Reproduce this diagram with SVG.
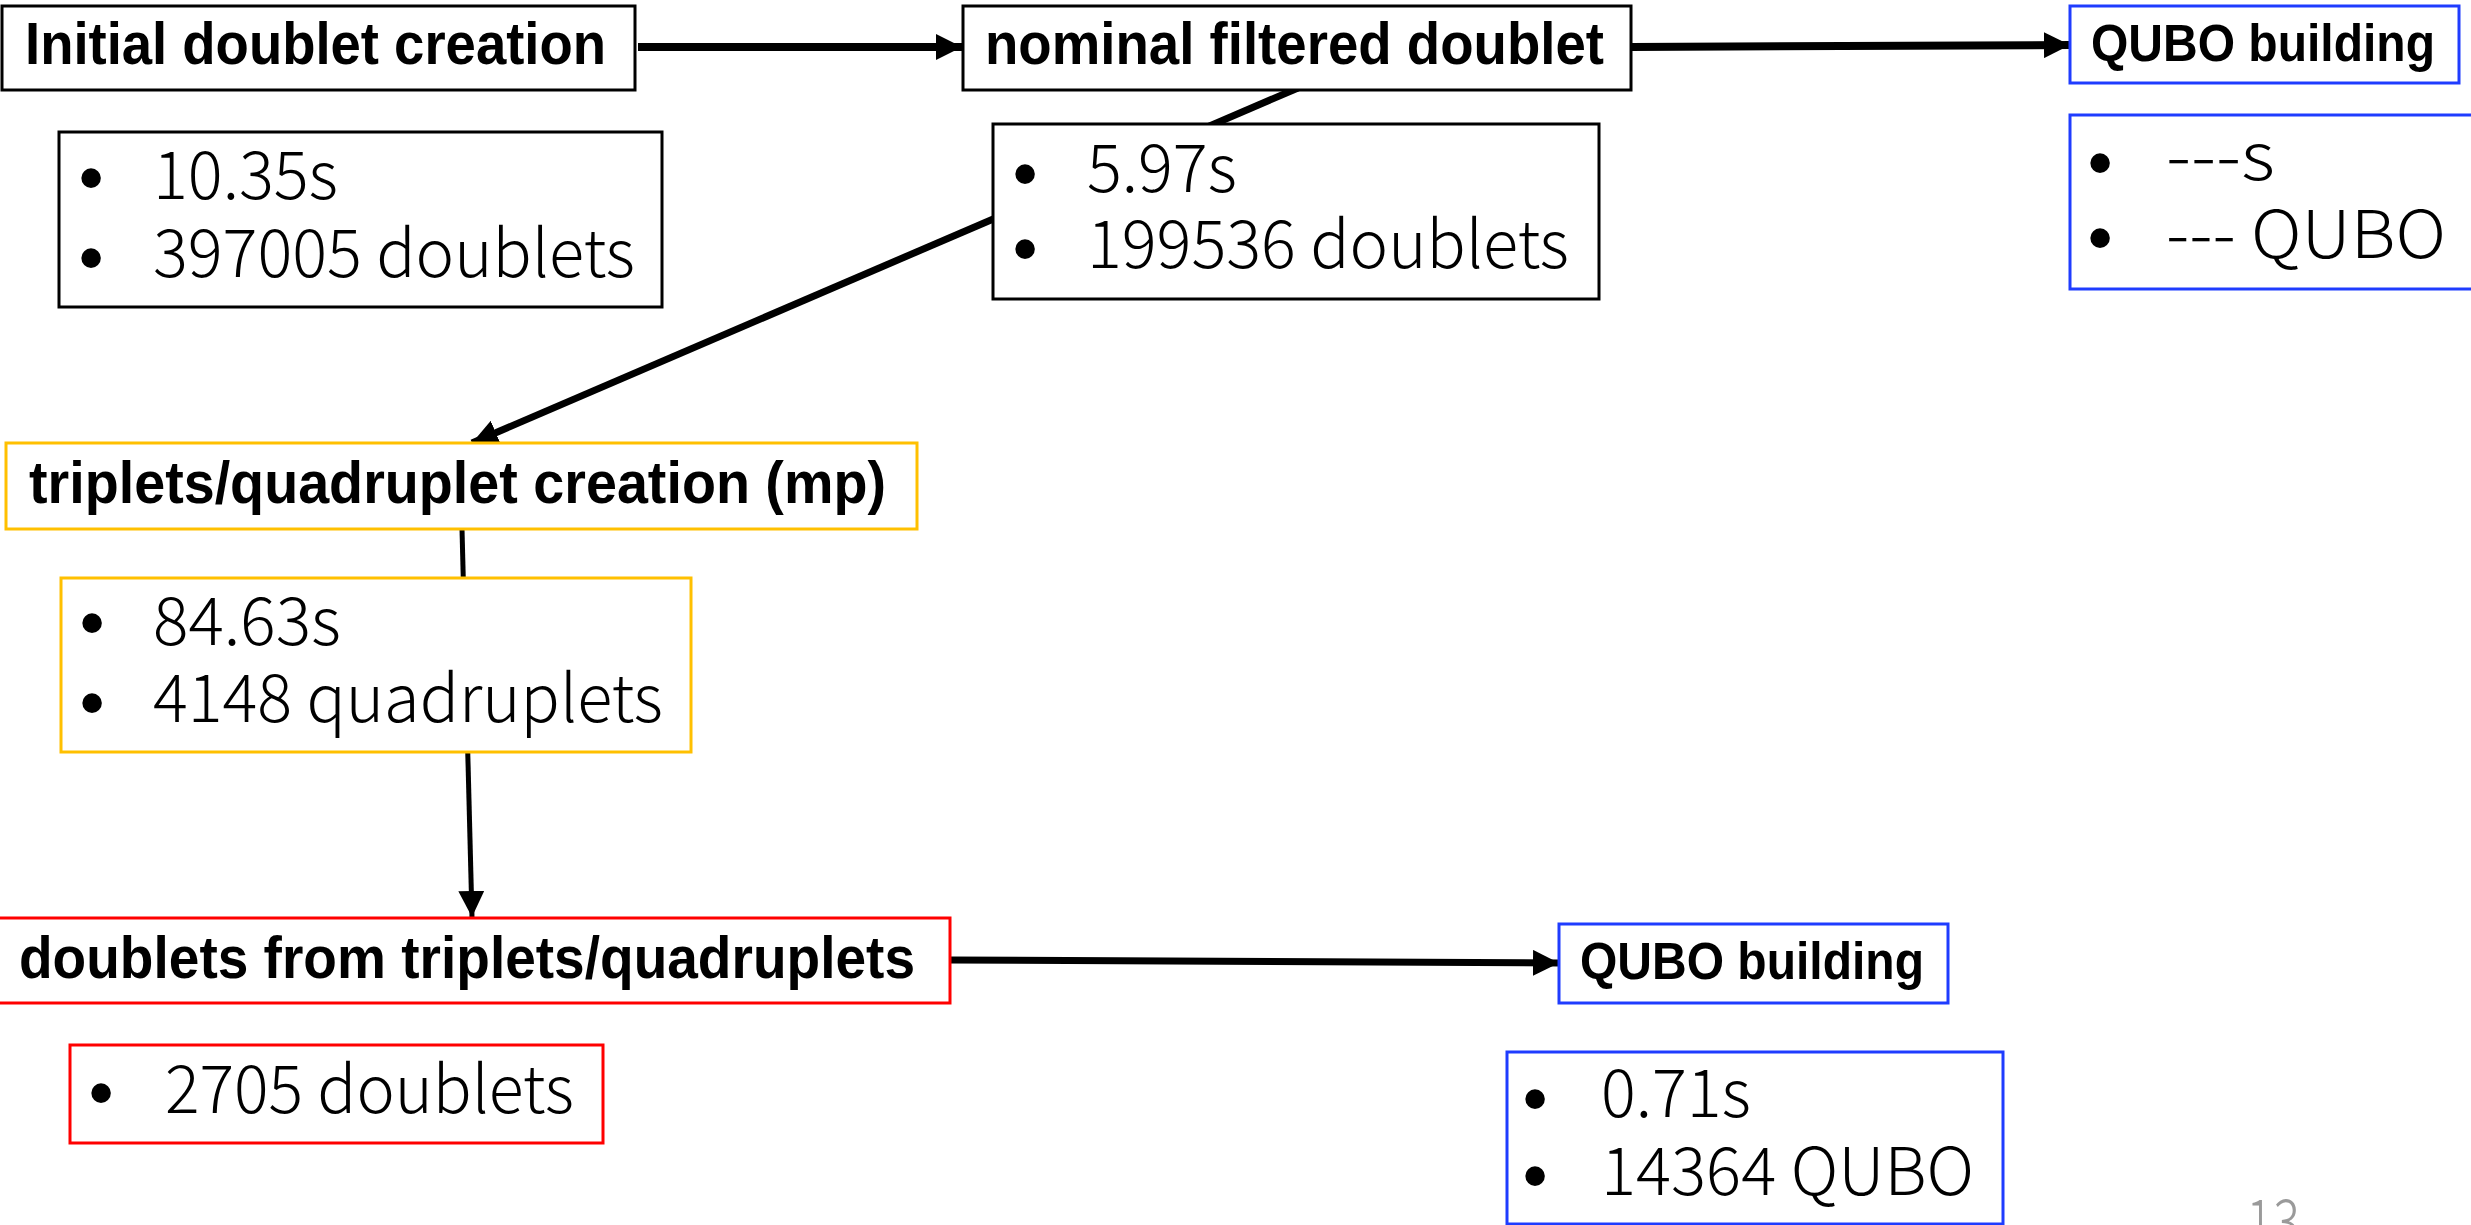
<svg xmlns="http://www.w3.org/2000/svg" width="2471" height="1225" viewBox="0 0 2471 1225">
<style>
  .box { fill: #ffffff; stroke-width: 3; }
  .k { stroke: #000000; }
  .b { stroke: #1f3cff; }
  .o { stroke: #ffc000; }
  .r { stroke: #ff0000; }
  .title { font-family: "Liberation Sans", Arial, sans-serif; font-weight: bold; font-size: 60px; fill: #000; }
  .qt { font-family: "Liberation Sans", Arial, sans-serif; font-weight: bold; font-size: 51px; fill: #000; }
  .stat { font-family: "Noto Sans CJK JP", "Liberation Sans", sans-serif; font-weight: 300; font-size: 66px; fill: #000; }
  .bul { font-family: "Liberation Sans", Arial, sans-serif; font-size: 72px; fill: #000; text-anchor: middle; }
  .conn { stroke: #000; fill: none; }
  .pg { font-family: "Noto Sans CJK JP", "Liberation Sans", sans-serif; font-weight: 300; font-size: 64px; fill: #9a9a9a; }
</style>
<defs>
  <marker id="ah" markerUnits="userSpaceOnUse" markerWidth="28" markerHeight="26" refX="26" refY="13" orient="auto">
    <path d="M0,0 L26,13 L0,26 Z" fill="#000"/>
  </marker>
</defs>

<g id="connectors">
  <line class="conn" x1="638" y1="47" x2="962" y2="47" stroke-width="8" marker-end="url(#ah)"/>
  <line class="conn" x1="1631" y1="47" x2="2070" y2="45" stroke-width="8" marker-end="url(#ah)"/>
  <line class="conn" x1="1298" y1="88" x2="472" y2="443" stroke-width="7" marker-end="url(#ah)"/>
  <line class="conn" x1="462" y1="529" x2="472" y2="917" stroke-width="5" marker-end="url(#ah)"/>
  <line class="conn" x1="950" y1="960" x2="1559" y2="963" stroke-width="7" marker-end="url(#ah)"/>
</g>

<g id="initial">
  <rect class="box k" x="2" y="6" width="633" height="84"/>
  <text class="title" x="25" y="64" textLength="581" lengthAdjust="spacingAndGlyphs">Initial doublet creation</text>
</g>
<g id="initial-stats">
  <rect class="box k" x="59" y="132" width="603" height="175"/>
  <text class="bul" x="91" y="202">•</text>
  <text class="stat" x="153" y="199" textLength="185" lengthAdjust="spacingAndGlyphs">10.35s</text>
  <text class="bul" x="91" y="282">•</text>
  <text class="stat" x="153" y="277" textLength="482" lengthAdjust="spacingAndGlyphs">397005 doublets</text>
</g>

<g id="nominal">
  <rect class="box k" x="963" y="6" width="668" height="84"/>
  <text class="title" x="985" y="64" textLength="619" lengthAdjust="spacingAndGlyphs">nominal filtered doublet</text>
</g>
<g id="nominal-stats">
  <rect class="box k" x="993" y="124" width="606" height="175"/>
  <text class="bul" x="1025" y="198">•</text>
  <text class="stat" x="1087" y="192" textLength="150" lengthAdjust="spacingAndGlyphs">5.97s</text>
  <text class="bul" x="1025" y="273">•</text>
  <text class="stat" x="1087" y="268" textLength="482" lengthAdjust="spacingAndGlyphs">199536 doublets</text>
</g>

<g id="qubo-top">
  <rect class="box b" x="2070" y="6" width="389" height="77"/>
  <text class="qt" x="2091" y="61" textLength="344" lengthAdjust="spacingAndGlyphs">QUBO building</text>
</g>
<g id="qubo-top-stats">
  <rect class="box b" x="2070" y="115" width="410" height="174"/>
  <text class="bul" x="2100" y="187">•</text>
  <text class="stat" x="2166" y="180" textLength="109" lengthAdjust="spacingAndGlyphs">---s</text>
  <text class="bul" x="2100" y="262">•</text>
  <text class="stat" x="2166" y="258" textLength="280" lengthAdjust="spacingAndGlyphs">--- QUBO</text>
</g>

<g id="triplets">
  <rect class="box o" x="6" y="443" width="911" height="86"/>
  <text class="title" x="29" y="503" textLength="857" lengthAdjust="spacingAndGlyphs">triplets/quadruplet creation (mp)</text>
</g>
<g id="triplets-stats">
  <rect class="box o" x="61" y="578" width="630" height="174"/>
  <text class="bul" x="92" y="647">•</text>
  <text class="stat" x="153" y="645" textLength="188" lengthAdjust="spacingAndGlyphs">84.63s</text>
  <text class="bul" x="92" y="727">•</text>
  <text class="stat" x="153" y="722" textLength="510" lengthAdjust="spacingAndGlyphs">4148 quadruplets</text>
</g>

<g id="doublets">
  <rect class="box r" x="-2" y="918" width="952" height="85"/>
  <text class="title" x="19" y="978" textLength="896" lengthAdjust="spacingAndGlyphs">doublets from triplets/quadruplets</text>
</g>
<g id="doublets-stats">
  <rect class="box r" x="70" y="1045" width="533" height="98"/>
  <text class="bul" x="101" y="1117">•</text>
  <text class="stat" x="165" y="1113" textLength="409" lengthAdjust="spacingAndGlyphs">2705 doublets</text>
</g>

<g id="qubo-bottom">
  <rect class="box b" x="1559" y="924" width="389" height="79"/>
  <text class="qt" x="1580" y="979" textLength="344" lengthAdjust="spacingAndGlyphs">QUBO building</text>
</g>
<g id="qubo-bottom-stats">
  <rect class="box b" x="1507" y="1052" width="496" height="172"/>
  <text class="bul" x="1535" y="1123">•</text>
  <text class="stat" x="1601" y="1117" textLength="150" lengthAdjust="spacingAndGlyphs">0.71s</text>
  <text class="bul" x="1535" y="1200">•</text>
  <text class="stat" x="1601" y="1195" textLength="373" lengthAdjust="spacingAndGlyphs">14364 QUBO</text>
</g>

<text class="pg" x="2246" y="1245" textLength="54" lengthAdjust="spacingAndGlyphs">13</text>
</svg>
